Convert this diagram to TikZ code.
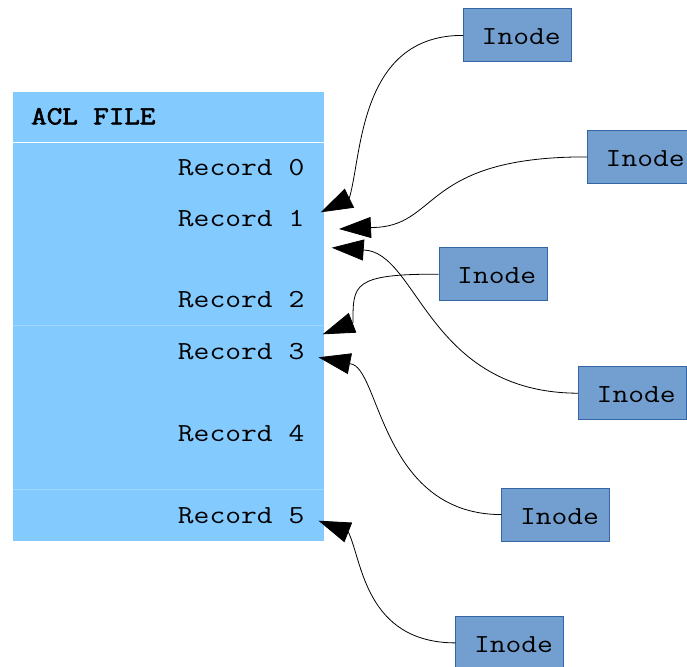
\documentclass[tikz,border=0pt]{standalone}
\usepackage{fontspec}
\newfontfamily\crfont{Latin Modern Mono}[FakeStretch=1.18]
\newfontfamily\crbfont{Latin Modern Mono}[FakeStretch=1.16, FakeBold=2.5]
\usetikzlibrary{arrows.meta,calc}
\definecolor{panelblue}{RGB}{131,202,255}
\definecolor{divline}{RGB}{160,214,255}
\definecolor{inodefill}{RGB}{114,159,207}
\definecolor{inodedraw}{RGB}{52,101,164}
\tikzset{
  panel/.style={fill=panelblue, draw=none, minimum width=311pt, minimum height=449pt, inner sep=0pt},
  rec/.style={font=\crfont\fontsize{26}{28}\selectfont, inner sep=0pt, anchor=base east},
  head/.style={font=\crbfont\fontsize{26}{28}\selectfont, inner sep=0pt, anchor=base west},
  ibox/.style={fill=inodefill, draw=inodedraw, line width=0.8pt, minimum width=108pt, minimum height=53pt, inner sep=0pt, anchor=north west},
  itext/.style={font=\crfont\fontsize{26}{28}\selectfont, inner sep=0pt, anchor=base west},
  conn/.style={draw=black, line width=0.8pt, -{Triangle[length=32pt,width=21pt]}}
}
\begin{document}
\begin{tikzpicture}[x=1pt,y=-1pt]
\useasboundingbox (0,0) rectangle (687,666);
% ACL file panel
\node[panel, anchor=north west] (acl) at (13,92) {};
\draw[white, line width=1pt] (13,142.3) -- (324,142.3);
\draw[divline, line width=1pt] (13,325.5) -- (324,325.5);
\draw[divline, line width=1pt] (13,489.5) -- (324,489.5);
\node[head] (aclh) at (31,124.3) {ACL FILE};
\node[rec] (r0) at (304.5,175.3) {Record 0};
\node[rec] (r1) at (304.5,226.7) {Record 1};
\node[rec] (r2) at (304.5,307.7) {Record 2};
\node[rec] (r3) at (304.5,359) {Record 3};
\node[rec] (r4) at (304.5,441) {Record 4};
\node[rec] (r5) at (304.5,523) {Record 5};
% Inode boxes
\node[ibox] (b1) at (463,8.5) {};
\node[ibox] (b2) at (587,130) {};
\node[ibox] (b3) at (438.5,247.3) {};
\node[ibox] (b4) at (578,366.3) {};
\node[ibox] (b5) at (501.3,487.7) {};
\node[ibox] (b6) at (455.3,616) {};
\foreach \i in {1,...,6}{
  \node[itext] (t\i) at ($(b\i.north west)+(18.5,36.3)$) {Inode};
}
% arrow geometry
\coordinate (tip1) at (320.7,212.3); \coordinate (bas1) at (349.2,198.3);
\coordinate (tip2) at (339,229);     \coordinate (bas2) at (371.5,227.5);
\coordinate (tip3) at (331.7,247.7); \coordinate (bas3) at (363.8,250);
\coordinate (tip4) at (322.7,334.3); \coordinate (bas4) at (353,322.6);
\coordinate (tip5) at (318.5,357.3); \coordinate (bas5) at (350,363.7);
\coordinate (tip6) at (318.5,520.7); \coordinate (bas6) at (348.5,532.5);
% connectors
\draw[conn] (b1.west) .. controls (358,35) and (362,158) .. (bas1) -- (tip1);
\draw[conn] (b2.west) .. controls (420,156.5) and (440,227.5) .. (bas2) -- (tip2);
\draw[conn] (b4.west) .. controls (428,392.8) and (418,252) .. (bas3) -- (tip3);
\draw[conn] (b3.west) .. controls (352,273.8) and (353,285) .. (bas4) -- (tip4);
\draw[conn] (b5.west) .. controls (380,514.2) and (380,366) .. (bas5) -- (tip5);
\draw[conn] (b6.west) .. controls (365,642.5) and (362,560) .. (bas6) -- (tip6);
\end{tikzpicture}
\end{document}
